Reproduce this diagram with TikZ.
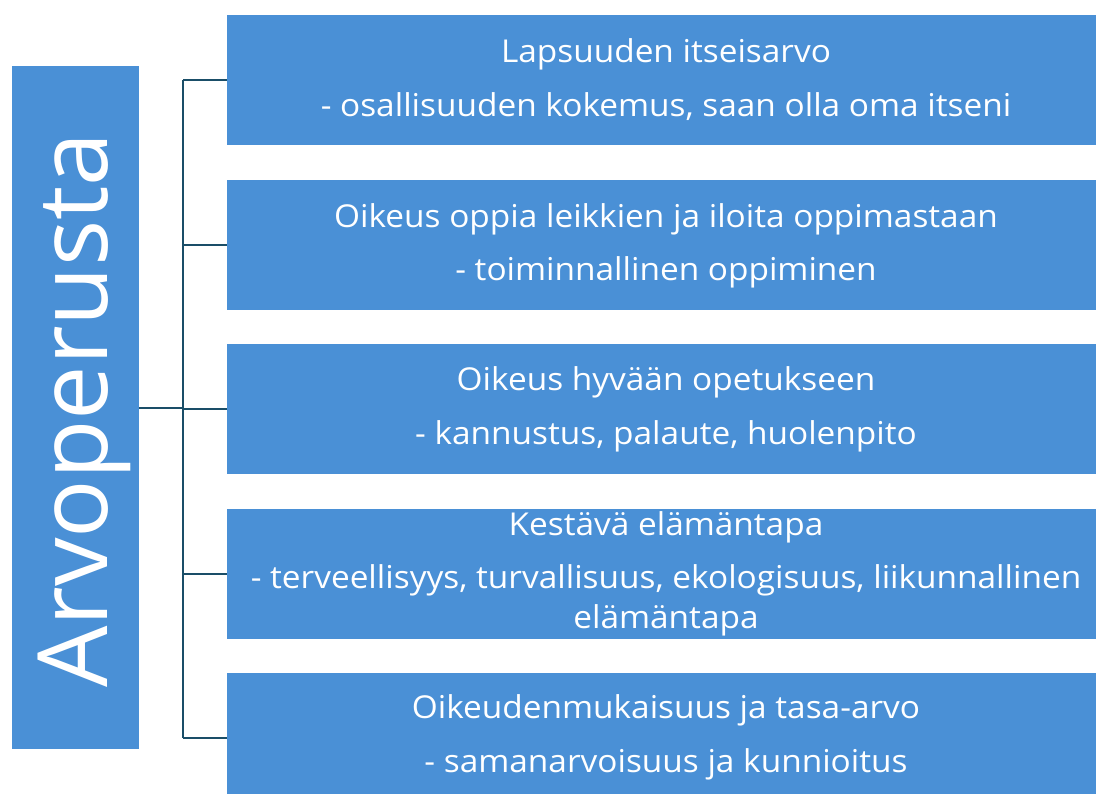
\documentclass[tikz,border=0pt]{standalone}
\usepackage{fontspec}
\setmainfont{Open Sans}
\newfontfamily\breed[FakeStretch=1.06]{Open Sans}
\definecolor{boxblue}{RGB}{74,144,214}
\definecolor{linkteal}{RGB}{26,78,104}
\tikzset{
  waarde/.style={fill=boxblue, draw=none, inner sep=0pt, anchor=north west, minimum width=878pt, minimum height=130pt},
  regel/.style={anchor=base, text=white, inner sep=0pt, font=\breed\fontsize{31.5}{37}\selectfont},
  tak/.style={draw=linkteal, line width=2pt}
}
\begin{document}
\begin{tikzpicture}[x=1pt, y=-1pt]
\useasboundingbox (0,0) rectangle (1096,794);
\node[fill=boxblue, inner sep=0pt, anchor=north west, minimum width=127pt, minimum height=683pt] (lb) at (12,66) {};
\node[rotate=90, anchor=base, text=white, inner sep=0pt, font=\fontsize{97}{110}\selectfont] (titel) at (107,410) {Arvoperusta};
%% boxes
\node[waarde] (b1) at (227,15) {}; \node[waarde] (b2) at (227,180) {};
\node[waarde] (b3) at (227,344) {}; \node[waarde] (b4) at (227,509) {};
\node[waarde] (b5) at (227,673) {};
%% texts
\node[regel] (t1a) at (666,63) {Lapsuuden itseisarvo}; \node[regel] (t1b) at (666,117) {- osallisuuden kokemus, saan olla oma itseni};
\node[regel] (t2a) at (666,228) {Oikeus oppia leikkien ja iloita oppimastaan}; \node[regel] (t2b) at (666,281) {- toiminnallinen oppiminen};
\node[regel] (t3a) at (666,391) {Oikeus hyvään opetukseen}; \node[regel] (t3b) at (666,445) {- kannustus, palaute, huolenpito};
\node[regel] (t4a) at (666,535) {Kestävä elämäntapa}; \node[regel] (t4b) at (666,588) {- terveellisyys, turvallisuus, ekologisuus, liikunnallinen};
\node[regel] (t4c) at (666,628) {elämäntapa};
\node[regel] (t5a) at (666,718) {Oikeudenmukaisuus ja tasa-arvo}; \node[regel] (t5b) at (666,772) {- samanarvoisuus ja kunnioitus};
%% links
\coordinate (hub) at (183,409);
\draw[tak] (lb.east) -- (lb.east -| hub);
\draw[tak] (hub |- b1.west) -- (hub |- b5.west);
\foreach \b in {b1,b2,b3,b4,b5} \draw[tak] (hub |- \b.west) -- (\b.west);
\end{tikzpicture}
\end{document}
